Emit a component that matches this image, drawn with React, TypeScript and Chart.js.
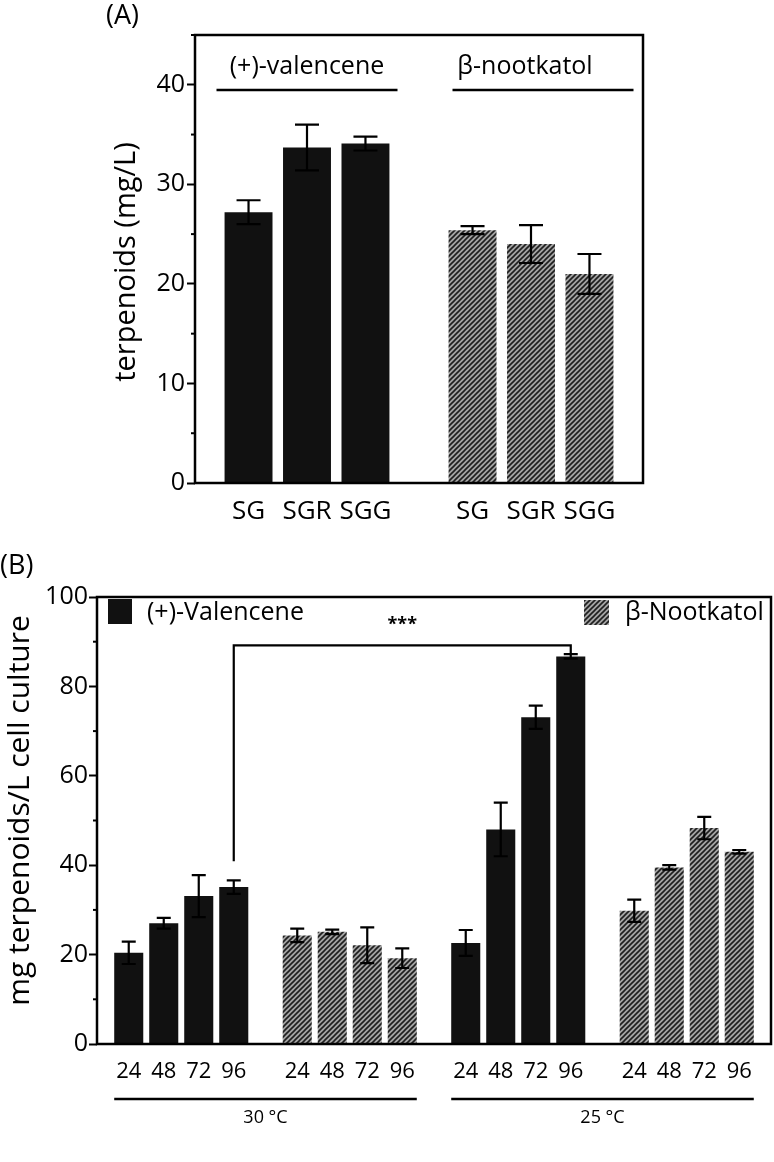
import React, { useEffect, useRef } from 'react';
import { Chart, registerables } from 'chart.js';

Chart.register(...registerables);

const FONT = "'Open Sans', 'Noto Sans', 'DejaVu Sans', sans-serif";

// ---------- Panel A data ----------
const groupsA = ['(+)-valencene', 'β-nootkatol'];
const strainsA = ['SG', 'SGR', 'SGG'];
const valenceneA = [27.2, 33.7, 34.1];
const valenceneErrA = [1.2, 2.3, 0.7];
const nootkatolA = [25.4, 24.0, 21.0];
const nootkatolErrA = [0.4, 1.9, 2.0];
const yTicksA = { min: 0, max: 45, step: 10, minorStep: 5 };
const yTitleA = 'terpenoids (mg/L)';

// ---------- Panel B data ----------
const hoursB = ['24', '48', '72', '96'];
const groupsB = ['30 °C (+)-Valencene', '30 °C β-Nootkatol', '25 °C (+)-Valencene', '25 °C β-Nootkatol'];
const tempsB = ['30 °C', '25 °C'];
const valencene30 = [20.4, 27.0, 33.1, 35.1];
const valencene30Err = [2.5, 1.2, 4.7, 1.5];
const nootkatol30 = [24.3, 25.1, 22.1, 19.2];
const nootkatol30Err = [1.5, 0.5, 4.0, 2.2];
const valencene25 = [22.6, 48.0, 73.1, 86.7];
const valencene25Err = [2.9, 6.0, 2.6, 0.5];
const nootkatol25 = [29.8, 39.5, 48.3, 43.0];
const nootkatol25Err = [2.5, 0.5, 2.5, 0.4];
const legendB = ['(+)-Valencene', 'β-Nootkatol'];
const yTicksB = { min: 0, max: 100, step: 20, minorStep: 10 };
const yTitleB = 'mg terpenoids/L cell culture';
const bracketB = { level: 89.2, leftEnd: 40.9, label: '***' };

const BLACK = '#111111';

function makeHatch(): CanvasPattern | string {
  const c = document.createElement('canvas');
  c.width = 5;
  c.height = 5;
  const g = c.getContext('2d');
  if (!g) return '#777';
  g.fillStyle = '#a4a4a4';
  g.fillRect(0, 0, 5, 5);
  g.strokeStyle = '#1e1e1e';
  g.lineWidth = 1.6;
  g.beginPath();
  g.moveTo(-1, 6); g.lineTo(6, -1);
  g.moveTo(-1, 1); g.lineTo(1, -1);
  g.moveTo(4, 6); g.lineTo(6, 4);
  g.stroke();
  const p = g.createPattern(c, 'repeat');
  return p || '#777';
}

function drawMinorTicks(chart: any, cfg: { min: number; max: number; step: number; minorStep: number }, len: number) {
  const ctx = chart.ctx;
  const y = chart.scales.y;
  const left = chart.chartArea.left;
  ctx.save();
  ctx.strokeStyle = '#000';
  ctx.lineWidth = 2;
  for (let v = cfg.min; v <= cfg.max; v += cfg.minorStep) {
    if (Math.abs(v / cfg.step - Math.round(v / cfg.step)) < 1e-6) continue;
    const py = y.getPixelForValue(v);
    ctx.beginPath();
    ctx.moveTo(left - len, py);
    ctx.lineTo(left, py);
    ctx.stroke();
  }
  ctx.restore();
}

function drawErrorBars(chart: any, errs: number[][], cap: number, lw: number) {
  const ctx = chart.ctx;
  const y = chart.scales.y;
  ctx.save();
  ctx.strokeStyle = '#000';
  ctx.lineWidth = lw;
  chart.data.datasets.forEach((ds: any, i: number) => {
    const meta = chart.getDatasetMeta(i);
    meta.data.forEach((bar: any, j: number) => {
      const v = ds.data[j];
      const e = errs[i][j];
      const x = bar.x;
      const top = y.getPixelForValue(v + e);
      const bot = y.getPixelForValue(v - e);
      ctx.beginPath();
      ctx.moveTo(x, top); ctx.lineTo(x, bot);
      ctx.moveTo(x - cap, top); ctx.lineTo(x + cap, top);
      ctx.moveTo(x - cap, bot); ctx.lineTo(x + cap, bot);
      ctx.stroke();
    });
  });
  ctx.restore();
}

function drawBox(chart: any, lw: number) {
  const { left, right, top, bottom } = chart.chartArea;
  const ctx = chart.ctx;
  ctx.save();
  ctx.strokeStyle = '#000';
  ctx.lineWidth = lw;
  ctx.strokeRect(left, top, right - left, bottom - top);
  ctx.restore();
}

function drawYTitle(chart: any, text: string, x: number, cy: number, size: number) {
  const ctx = chart.ctx;
  ctx.save();
  ctx.translate(x, cy);
  ctx.rotate(-Math.PI / 2);
  ctx.fillStyle = '#000';
  ctx.textAlign = 'center';
  ctx.textBaseline = 'middle';
  ctx.font = `${size}px ${FONT}`;
  ctx.fillText(text, 0, 0);
  ctx.restore();
}

function ChartA() {
  const ref = useRef<HTMLCanvasElement>(null);
  useEffect(() => {
    if (!ref.current) return;
    const hatch = makeHatch();
    const colors = [BLACK, hatch];
    const datasets = strainsA.map((s, j) => ({
      label: s,
      data: [valenceneA[j], nootkatolA[j]],
      backgroundColor: colors,
      borderWidth: 0,
      categoryPercentage: 0.783,
      barPercentage: 0.82,
    }));
    const errs = strainsA.map((_, j) => [valenceneErrA[j], nootkatolErrA[j]]);
    const plugin = {
      id: 'panelA',
      afterDatasetsDraw(chart: any) {
        const ctx = chart.ctx;
        const { top, bottom } = chart.chartArea;
        drawErrorBars(chart, errs, 12, 2.2);
        drawBox(chart, 2.5);
        drawMinorTicks(chart, yTicksA, 4);
        drawYTitle(chart, yTitleA, 127, (top + bottom) / 2 + 3, 29);
        ctx.save();
        ctx.fillStyle = '#000';
        ctx.textAlign = 'center';
        ctx.textBaseline = 'middle';
        ctx.font = `26px ${FONT}`;
        strainsA.forEach((s, i) => {
          chart.getDatasetMeta(i).data.forEach((bar: any) => {
            ctx.fillText(s, bar.x, bottom + 29);
          });
        });
        // group headers with lines
        const offsets = [0, 12];
        ctx.font = `25px ${FONT}`;
        groupsA.forEach((g, k) => {
          const cx = chart.scales.x.getPixelForValue(k);
          ctx.fillText(g, cx + (k === 0 ? 0 : -6), top + 32);
          ctx.beginPath();
          ctx.lineWidth = 2.5;
          ctx.strokeStyle = '#000';
          ctx.moveTo(cx + offsets[k] - 90.5, top + 55);
          ctx.lineTo(cx + offsets[k] + 90.5, top + 55);
          ctx.stroke();
        });
        ctx.textAlign = 'left';
        ctx.font = `27px ${FONT}`;
        ctx.fillText('(A)', 106, 16);
        ctx.restore();
      },
    };
    const chart = new Chart(ref.current, {
      type: 'bar',
      data: { labels: groupsA, datasets },
      options: {
        responsive: false,
        maintainAspectRatio: false,
        animation: false,
        layout: { padding: { left: 0, right: 131, top: 35, bottom: 67 } },
        plugins: { legend: { display: false }, tooltip: { enabled: false } },
        scales: {
          x: { display: false, offset: true },
          y: {
            min: yTicksA.min,
            max: yTicksA.max,
            ticks: {
              stepSize: yTicksA.step,
              includeBounds: false,
              color: '#000',
              padding: 2,
              font: { family: FONT, size: 25 },
            },
            grid: { drawOnChartArea: false, tickLength: 8, tickWidth: 2, tickColor: '#000' },
            border: { display: false },
            afterFit: (s: any) => { s.width = 195; },
          },
        },
      } as any,
      plugins: [plugin],
    });
    return () => chart.destroy();
  }, []);
  return <canvas ref={ref} width={774} height={550} style={{ position: 'absolute', left: 0, top: 0, width: 774, height: 550 }} />;
}

function ChartB() {
  const ref = useRef<HTMLCanvasElement>(null);
  useEffect(() => {
    if (!ref.current) return;
    const hatch = makeHatch();
    const colors = [BLACK, hatch, BLACK, hatch];
    const series = [valencene30, nootkatol30, valencene25, nootkatol25];
    const seriesErr = [valencene30Err, nootkatol30Err, valencene25Err, nootkatol25Err];
    const datasets = hoursB.map((h, j) => ({
      label: h,
      data: series.map((s) => s[j]),
      backgroundColor: colors,
      borderWidth: 0,
      categoryPercentage: 0.831,
      barPercentage: 0.83,
    }));
    const errs = hoursB.map((_, j) => seriesErr.map((s) => s[j]));
    const plugin = {
      id: 'panelB',
      afterDatasetsDraw(chart: any) {
        const ctx = chart.ctx;
        const { top, bottom } = chart.chartArea;
        const y = chart.scales.y;
        drawErrorBars(chart, errs, 7, 2.2);
        drawBox(chart, 2.5);
        drawMinorTicks(chart, yTicksB, 4);
        drawYTitle(chart, yTitleB, 20, (top + bottom) / 2 - 10, 30);
        ctx.save();
        ctx.fillStyle = '#000';
        ctx.strokeStyle = '#000';
        ctx.textAlign = 'center';
        ctx.textBaseline = 'middle';
        ctx.font = `22px ${FONT}`;
        hoursB.forEach((h, i) => {
          chart.getDatasetMeta(i).data.forEach((bar: any) => {
            ctx.fillText(h, bar.x, bottom + 28);
          });
        });
        // temperature lines
        const first = chart.getDatasetMeta(0).data;
        const last = chart.getDatasetMeta(hoursB.length - 1).data;
        ctx.font = `18px ${FONT}`;
        tempsB.forEach((t, k) => {
          const b0 = first[k * 2];
          const b1 = last[k * 2 + 1];
          const x0 = b0.x - b0.width / 2;
          const x1 = b1.x + b1.width / 2;
          ctx.beginPath();
          ctx.lineWidth = 2.5;
          ctx.moveTo(x0, bottom + 55);
          ctx.lineTo(x1, bottom + 55);
          ctx.stroke();
          ctx.fillText(t, (x0 + x1) / 2, bottom + 74);
        });
        // significance bracket
        const lb = last[0];
        const rb = last[2];
        const rEnd = y.getPixelForValue(valencene25[3] + valencene25Err[3]);
        const lev = y.getPixelForValue(bracketB.level);
        ctx.beginPath();
        ctx.lineWidth = 2.2;
        ctx.moveTo(lb.x, y.getPixelForValue(bracketB.leftEnd));
        ctx.lineTo(lb.x, lev);
        ctx.lineTo(rb.x, lev);
        ctx.lineTo(rb.x, rEnd);
        ctx.stroke();
        ctx.font = `bold 18px ${FONT}`;
        ctx.fillText(bracketB.label, (lb.x + rb.x) / 2, top + 28);
        // legend
        ctx.fillStyle = BLACK;
        ctx.fillRect(108, top + 2, 24, 25);
        ctx.fillStyle = hatch as any;
        ctx.fillRect(584, top + 3, 25, 25);
        ctx.fillStyle = '#000';
        ctx.textAlign = 'left';
        ctx.font = `25px ${FONT}`;
        ctx.fillText(legendB[0], 147, top + 16);
        ctx.fillText(legendB[1], 625, top + 16);
        ctx.font = `27px ${FONT}`;
        ctx.fillText('(B)', 0, 16);
        ctx.restore();
      },
    };
    const chart = new Chart(ref.current, {
      type: 'bar',
      data: { labels: groupsB, datasets },
      options: {
        responsive: false,
        maintainAspectRatio: false,
        animation: false,
        layout: { padding: { left: 0, right: 3, top: 47, bottom: 118 } },
        plugins: { legend: { display: false }, tooltip: { enabled: false } },
        scales: {
          x: { display: false, offset: true },
          y: {
            min: yTicksB.min,
            max: yTicksB.max,
            ticks: {
              stepSize: yTicksB.step,
              includeBounds: false,
              color: '#000',
              padding: 1,
              font: { family: FONT, size: 25 },
            },
            grid: { drawOnChartArea: false, tickLength: 8, tickWidth: 2, tickColor: '#000' },
            border: { display: false },
            afterFit: (s: any) => { s.width = 97; },
          },
        },
      } as any,
      plugins: [plugin],
    });
    return () => chart.destroy();
  }, []);
  return <canvas ref={ref} width={774} height={612} style={{ position: 'absolute', left: 0, top: 550, width: 774, height: 612 }} />;
}

export default function App() {
  return (
    <div style={{ position: 'absolute', left: 0, top: 0, width: 774, height: 1162, background: '#fff', overflow: 'hidden' }}>
      <ChartA />
      <ChartB />
    </div>
  );
}
